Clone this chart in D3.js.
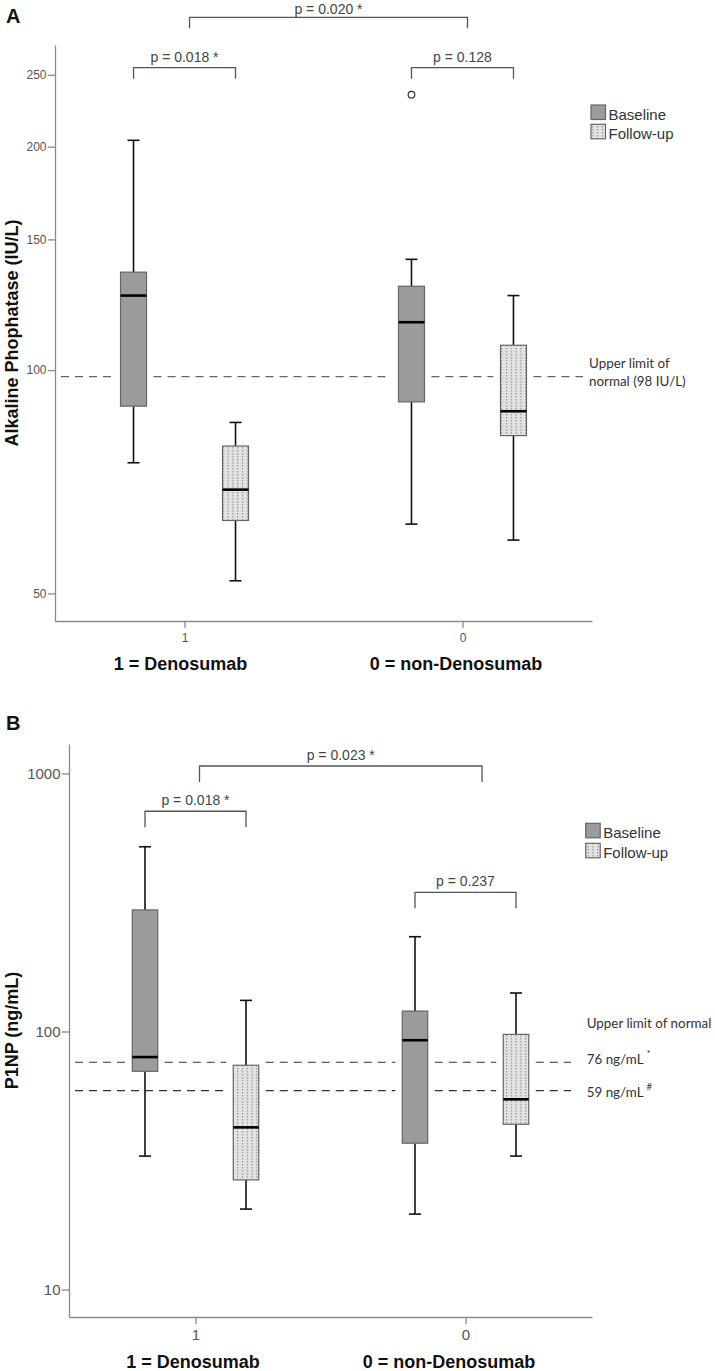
<!DOCTYPE html>
<html><head><meta charset="utf-8">
<script src="https://cdn.jsdelivr.net/npm/d3@7"></script>
<style>
body{margin:0;background:#fff}
svg{display:block}
text{font-family:"Liberation Sans",Arial,Helvetica,sans-serif}
</style>
</head><body>
<svg id="chart" width="715" height="1371"></svg>
<script>
// ---------------- DATA ----------------
const groups = ["1", "0"];
const groupLabels = ["1 = Denosumab", "0 = non-Denosumab"];
const series = ["Baseline", "Follow-up"];

// Panel A: Alkaline phosphatase (IU/L)
const alpBoxes = [
  {group: "1", series: "Baseline",  low: 75, q1: 89.4, median: 126, q3: 135.5, high: 204, outliers: []},
  {group: "1", series: "Follow-up", low: 52, q1: 62.7, median: 69,  q3: 79,    high: 85,  outliers: []},
  {group: "0", series: "Baseline",  low: 62, q1: 90.6, median: 116, q3: 129.7, high: 141, outliers: [235]},
  {group: "0", series: "Follow-up", low: 59, q1: 81.6, median: 88,  q3: 108,   high: 126, outliers: []}
];
const alpTicks = [50, 100, 150, 200, 250];
const alpLimits = [98];
const alpLimitText = ["Upper limit of", "normal (98 IU/L)"];
const alpTests = [
  {type: "within",  group: "1", level: 255.6, label: "p = 0.018 *"},
  {type: "within",  group: "0", level: 255.6, label: "p = 0.128"},
  {type: "between", level: 298.8, label: "p = 0.020 *"}
];

// Panel B: P1NP (ng/mL)
const p1npBoxes = [
  {group: "1", series: "Baseline",  low: 32.9, q1: 70.1, median: 79.6, q3: 296, high: 520, outliers: []},
  {group: "1", series: "Follow-up", low: 20.5, q1: 26.6, median: 42.5, q3: 74,  high: 132, outliers: []},
  {group: "0", series: "Baseline",  low: 19.6, q1: 36.9, median: 92.5, q3: 120, high: 233, outliers: []},
  {group: "0", series: "Follow-up", low: 32.9, q1: 43.7, median: 54.6, q3: 97.5, high: 141, outliers: []}
];
const p1npTicks = [10, 100, 1000];
const p1npLimits = [76, 59];
const p1npLimitHeading = "Upper limit of normal";
const p1npLimitText = ["76 ng/mL", "59 ng/mL"];
const p1npLimitMarks = ["*", "#"];
const p1npTests = [
  {type: "within",  group: "1", level: 714,  label: "p = 0.018 *"},
  {type: "within",  group: "0", level: 346.3, label: "p = 0.237"},
  {type: "between", level: 1069, label: "p = 0.023 *"}
];

// ---------------- DRAWING ----------------
const svg = d3.select("#chart");
svg.append("rect").attr("width", 715).attr("height", 1371).attr("fill", "#fff");

const defs = svg.append("defs");
const pat = defs.append("pattern").attr("id", "dots")
  .attr("patternUnits", "userSpaceOnUse").attr("width", 4.8).attr("height", 3);
pat.append("rect").attr("width", 4.8).attr("height", 3).attr("fill", "#e2e2e2");
pat.append("rect").attr("x", 2).attr("y", 0).attr("width", 1).attr("height", 1.5).attr("fill", "#8c8c8c");

const fillFor = s => s === "Baseline" ? "#9b9b9b" : "url(#dots)";

function drawPanel(cfg) {
  const g = svg.append("g");
  const x = d3.scalePoint().domain(groups).range([cfg.left, cfg.right]).padding(cfg.pad);
  const xs = d3.scalePoint().domain(series).range([-cfg.offset, cfg.offset]);
  const y = d3.scaleLog().domain(cfg.domain).range([cfg.bottom, cfg.top]);

  // axes
  const ya = g.append("g").attr("transform", `translate(${cfg.left},0)`)
    .call(d3.axisLeft(y).tickValues(cfg.ticks).tickFormat(d3.format("d"))
      .tickSize(7).tickSizeOuter(0).tickPadding(1.5));
  const xa = g.append("g").attr("transform", `translate(0,${cfg.bottom})`)
    .call(d3.axisBottom(x).tickSize(7).tickSizeOuter(0).tickPadding(cfg.xTickPad));
  [ya, xa].forEach(a => {
    a.select(".domain").attr("stroke", "#8a8a8a").attr("stroke-width", 1.3);
    a.selectAll(".tick line").attr("stroke", "#8a8a8a").attr("stroke-width", 1.3);
    a.selectAll(".tick text").attr("fill", "#555")
      .style("font-size", cfg.tickFont + "px")
      .style("font-family", '"Liberation Sans", Arial, sans-serif');
  });

  // reference (upper limit) dashed lines, broken around boxes that they cross
  cfg.limits.forEach(v => {
    const ly = y(v);
    const gaps = cfg.boxes.filter(d => ly >= y(d.q3) - 8 && ly <= y(d.q1) + 8)
      .map(d => {
        const cx = x(d.group) + xs(d.series);
        return [cx - cfg.boxW / 2 - 7, cx + cfg.boxW / 2 + 7];
      }).sort((a, b) => a[0] - b[0]);
    let start = cfg.refX[0];
    const segs = [];
    gaps.forEach(gp => { if (gp[0] > start) segs.push([start, gp[0]]); start = Math.max(start, gp[1]); });
    if (start < cfg.refX[1]) segs.push([start, cfg.refX[1]]);
    g.selectAll(null).data(segs).join("line")
      .attr("x1", s => s[0]).attr("x2", s => s[1])
      .attr("y1", ly).attr("y2", ly)
      .attr("stroke", cfg.dashColor).attr("stroke-width", 1.2)
      .attr("stroke-dasharray", "8,6");
  });

  // boxes
  const bw = cfg.boxW;
  const bx = g.selectAll(".box").data(cfg.boxes).join("g").attr("class", "box");
  const cxOf = d => x(d.group) + xs(d.series);
  bx.append("line").attr("x1", cxOf).attr("x2", cxOf)
    .attr("y1", d => y(d.high)).attr("y2", d => y(d.q3))
    .attr("stroke", "#111").attr("stroke-width", 1.6);
  bx.append("line").attr("x1", cxOf).attr("x2", cxOf)
    .attr("y1", d => y(d.q1)).attr("y2", d => y(d.low))
    .attr("stroke", "#111").attr("stroke-width", 1.6);
  ["high", "low"].forEach(k => {
    bx.append("line").attr("x1", d => cxOf(d) - 6).attr("x2", d => cxOf(d) + 6)
      .attr("y1", d => y(d[k])).attr("y2", d => y(d[k]))
      .attr("stroke", "#111").attr("stroke-width", 1.6);
  });
  bx.append("rect").attr("x", d => cxOf(d) - bw / 2).attr("width", bw)
    .attr("y", d => y(d.q3)).attr("height", d => y(d.q1) - y(d.q3))
    .attr("fill", d => fillFor(d.series)).attr("stroke", "#666").attr("stroke-width", 1.2);
  bx.append("line").attr("x1", d => cxOf(d) - bw / 2).attr("x2", d => cxOf(d) + bw / 2)
    .attr("y1", d => y(d.median)).attr("y2", d => y(d.median))
    .attr("stroke", "#000").attr("stroke-width", 2.6);
  bx.selectAll("circle").data(d => d.outliers.map(o => ({o, cx: cxOf(d)}))).join("circle")
    .attr("cx", d => d.cx).attr("cy", d => y(d.o)).attr("r", 3.3)
    .attr("fill", "#fff").attr("stroke", "#333").attr("stroke-width", 1.2);

  // significance brackets
  cfg.tests.forEach(t => {
    let x1, x2;
    if (t.type === "within") {
      x1 = x(t.group) + xs("Baseline");
      x2 = x(t.group) + xs("Follow-up");
    } else {
      x1 = x(groups[0]) + cfg.betweenOff[0];
      x2 = x(groups[1]) + cfg.betweenOff[1];
    }
    const yl = y(t.level);
    g.append("path")
      .attr("d", `M${x1},${yl + cfg.leg}V${yl}H${x2}V${yl + cfg.leg}`)
      .attr("fill", "none").attr("stroke", "#555").attr("stroke-width", 1.3);
    g.append("text").attr("x", (x1 + x2) / 2).attr("y", Math.max(yl - 6, 13.5))
      .attr("text-anchor", "middle").attr("fill", "#444")
      .style("font-size", "14px").text(t.label);
  });

  // legend
  series.forEach((s, i) => {
    const ly = cfg.legend[1] + i * cfg.legendStep;
    g.append("rect").attr("x", cfg.legend[0]).attr("y", ly).attr("width", 14.5).attr("height", 14.5)
      .attr("fill", fillFor(s)).attr("stroke", "#666").attr("stroke-width", 1.2);
    g.append("text").attr("x", cfg.legend[0] + 17.5).attr("y", ly + 14.5)
      .attr("fill", "#333").style("font-size", "15px").text(s);
  });

  // y-axis title
  g.append("text")
    .attr("transform", `translate(${cfg.titleX},${(cfg.top + cfg.bottom) / 2}) rotate(-90)`)
    .attr("text-anchor", "middle").attr("fill", "#111")
    .style("font-size", "18px").style("font-weight", "bold").text(cfg.title);

  // group labels
  groups.forEach((gr, i) => {
    g.append("text").attr("x", x(gr) + cfg.labelOff[i]).attr("y", cfg.labelY)
      .attr("text-anchor", "middle").attr("fill", "#111")
      .style("font-size", "18px").style("font-weight", "bold").text(groupLabels[i]);
  });

  // panel letter
  g.append("text").attr("x", 6).attr("y", cfg.letterY).attr("fill", "#111")
    .style("font-size", "20px").style("font-weight", "bold").text(cfg.letter);

  return {g, x, y};
}

const annFont = 'Lato, "Open Sans", sans-serif';
const annSize = "13.4px";

// Panel A
const A = drawPanel({
  letter: "A", letterY: 22.7,
  left: 55, right: 592, pad: 0.466, top: 45, bottom: 621,
  domain: [45.9, 274.2], ticks: alpTicks, tickFont: 12, xTickPad: 5.5,
  offset: 51, boxW: 26, boxes: alpBoxes,
  limits: alpLimits, refX: [61, 583], dashColor: "#666",
  tests: alpTests, leg: 11, betweenOff: [5, 5],
  legend: [591, 105], legendStep: 19.3,
  title: "Alkaline Phophatase (IU/L)", titleX: 17.5,
  labelY: 670, labelOff: [-4, -6.5]
});
alpLimitText.forEach((t, i) => {
  A.g.append("text").attr("x", 589).attr("y", A.y(alpLimits[0]) + (i === 0 ? -8.5 : 9.2))
    .attr("fill", "#333").style("font-family", annFont).style("font-size", annSize).text(t);
});

// Panel B
const B = drawPanel({
  letter: "B", letterY: 730,
  left: 69, right: 592, pad: 0.4685, top: 744, bottom: 1317,
  domain: [7.825, 1301], ticks: p1npTicks, tickFont: 15, xTickPad: 5,
  offset: 50.5, boxW: 25.5, boxes: p1npBoxes,
  limits: p1npLimits, refX: [75, 571], dashColor: "#333",
  tests: p1npTests, leg: 16, betweenOff: [4, 16.5],
  legend: [585.7, 823.3], legendStep: 20,
  title: "P1NP (ng/mL)", titleX: 17.5,
  labelY: 1368, labelOff: [-2.5, -16.5]
});
B.g.append("text").attr("x", 586.7).attr("y", B.y(p1npLimits[0]) - 34.7)
  .attr("fill", "#333").style("font-family", annFont).style("font-size", annSize).text(p1npLimitHeading);
p1npLimitText.forEach((t, i) => {
  const tx = B.g.append("text").attr("x", 586.7).attr("y", B.y(p1npLimits[i]) + (i === 0 ? 1.3 : 6))
    .attr("fill", "#333").style("font-family", annFont).style("font-size", annSize);
  tx.append("tspan").text(t);
  tx.append("tspan").attr("dx", 3).attr("dy", -7).style("font-size", "9.5px").text(p1npLimitMarks[i]);
});
</script>
</body></html>
